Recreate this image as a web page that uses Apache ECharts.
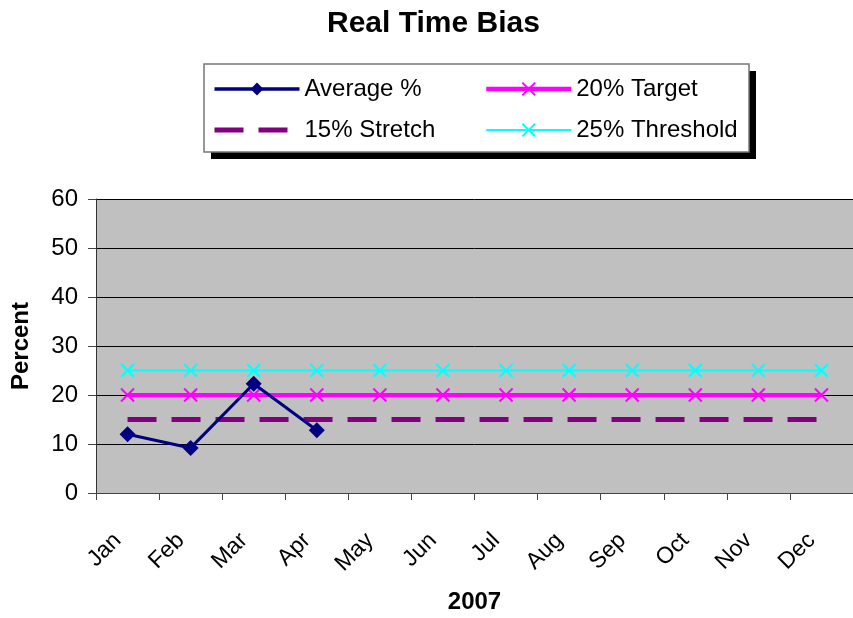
<!DOCTYPE html>
<html><head><meta charset="utf-8">
<script src="https://cdn.jsdelivr.net/npm/echarts@6/dist/echarts.min.js"></script>
<style>html,body{margin:0;padding:0;background:#fff}#c{width:853px;height:618px}</style>
</head><body><div id="c"></div>
<script>
var months = ['Jan','Feb','Mar','Apr','May','Jun','Jul','Aug','Sep','Oct','Nov','Dec'];
var averagePct = [12, 9.2, 22.3, 12.8, null, null, null, null, null, null, null, null];
var target20 = [20,20,20,20,20,20,20,20,20,20,20,20];
var stretch15 = [15,15,15,15,15,15,15,15,15,15,15,15];
var threshold25 = [25,25,25,25,25,25,25,25,25,25,25,25];
var yTicks = [0,10,20,30,40,50,60];

var FONT = 'Liberation Sans, Arial, sans-serif';
var X_PATH = 'path://M0,0L10,10M10,0L0,10';
var legendText = {fontFamily: FONT, fontSize: 24, color: '#000'};
var chart = echarts.init(document.getElementById('c'));
chart.setOption({
  animation: false,
  backgroundColor: '#fff',
  textStyle: {fontFamily: FONT, color: '#000'},
  title: {text: 'Real Time Bias', left: 322, top: 4,
    textStyle: {fontFamily: FONT, fontWeight: 'bold', fontSize: 30, color: '#000'}},
  graphic: [
    {type: 'rect', shape: {x: 211, y: 71, width: 545, height: 88}, style: {fill: '#000'}, z: 0},
    {type: 'rect', shape: {x: 204, y: 64, width: 545, height: 88}, style: {fill: '#fff', stroke: '#777', lineWidth: 1.5}, z: 0}
  ],
  legend: [
    {data: [{name: 'Average %', lineStyle: {width: 3.5}}, {name: '15% Stretch', lineStyle: {width: 5}}],
     orient: 'vertical', left: 212, top: 77, itemWidth: 85, itemHeight: 16, itemGap: 17, padding: 0,
     textStyle: legendText, z: 5},
    {data: [{name: '20% Target', lineStyle: {width: 4.5}}, {name: '25% Threshold', lineStyle: {width: 2}}],
     orient: 'vertical', left: 484, top: 77, itemWidth: 85, itemHeight: 16, itemGap: 17, padding: 0,
     textStyle: legendText, z: 5}
  ],
  grid: {left: 96, top: 199, width: 765, height: 294, show: true, backgroundColor: '#c0c0c0', borderWidth: 0},
  xAxis: {type: 'category', data: months, boundaryGap: true,
    name: '2007', nameLocation: 'middle', nameGap: 97,
    nameTextStyle: {fontFamily: FONT, fontWeight: 'bold', fontSize: 24, color: '#000'},
    axisLine: {lineStyle: {color: '#444', width: 1}},
    axisTick: {show: true, length: 7, alignWithLabel: false, lineStyle: {color: '#444'}},
    axisLabel: {rotate: 45, fontSize: 23, color: '#000', fontFamily: FONT, margin: 34, padding: [0, 14, 0, 0]}},
  yAxis: {type: 'value', min: 0, max: 60, interval: 10,
    name: 'Percent', nameLocation: 'middle', nameGap: 63, nameRotate: 90,
    nameTextStyle: {fontFamily: FONT, fontWeight: 'bold', fontSize: 24, color: '#000'},
    axisLine: {show: true, lineStyle: {color: '#333', width: 1}},
    axisTick: {show: true, length: 8, lineStyle: {color: '#444'}},
    axisLabel: {fontSize: 24, color: '#000', fontFamily: FONT, margin: 18,
      formatter: function(v){ return yTicks.indexOf(v) >= 0 ? String(v) : ''; }},
    splitLine: {show: true, lineStyle: {color: '#000', width: 1}}},
  series: [
    {name: '15% Stretch', type: 'line', data: stretch15, showSymbol: false, symbol: 'circle',
     lineStyle: {color: '#800080', width: 5, type: [29, 15]}, itemStyle: {color: 'rgba(0,0,0,0)'}, z: 2},
    {name: '25% Threshold', type: 'line', data: threshold25, symbol: X_PATH, symbolSize: 13,
     lineStyle: {color: '#00ffff', width: 2}, itemStyle: {color: '#00ffff', borderColor: '#00ffff', borderWidth: 2}, z: 3},
    {name: '20% Target', type: 'line', data: target20, symbol: X_PATH, symbolSize: 13,
     lineStyle: {color: '#ff00ff', width: 4}, itemStyle: {color: '#ff00ff', borderColor: '#ff00ff', borderWidth: 2}, z: 4},
    {name: 'Average %', type: 'line', data: averagePct, symbol: 'diamond', symbolSize: 16,
     lineStyle: {color: '#000080', width: 3}, itemStyle: {color: '#000080'}, z: 5}
  ]
});
</script></body></html>
